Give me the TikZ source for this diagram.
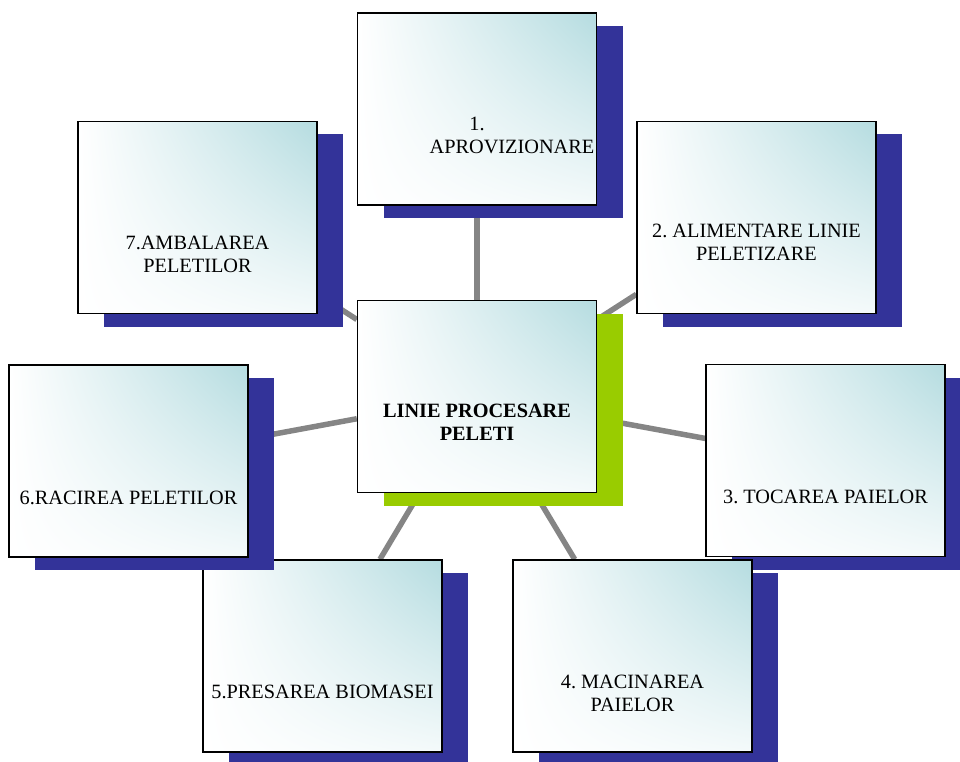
\documentclass[tikz,border=0pt]{standalone}
\usepackage{fontspec}
\setmainfont{Liberation Serif}
\usetikzlibrary{positioning,shadows,shadings,backgrounds}

\definecolor{stagenavy}{HTML}{333399}
\definecolor{hubgreen}{HTML}{99CC00}
\definecolor{paleteal}{HTML}{B5DCE0}
\definecolor{linkgray}{HTML}{858585}

\tikzset{
  box/.style={rectangle, draw=black, line width=1.4pt, inner sep=0pt,
    minimum width=239pt, minimum height=192pt,
    upper left=white, upper right=paleteal, lower left=white, lower right=paleteal!15},
  stagebox/.style={box, drop shadow={shadow xshift=26pt, shadow yshift=-13pt, fill=stagenavy, opacity=1}},
  hubbox/.style={box, drop shadow={shadow xshift=26pt, shadow yshift=-13pt, fill=hubgreen, opacity=1}},
  caption/.style={align=center, inner sep=0pt, font=\fontsize{20.3}{23}\selectfont\frenchspacing},
  link/.style={draw=linkgray, line width=5.5pt},
}

\begin{document}
\begin{tikzpicture}[x=1pt, y=-1pt]
\useasboundingbox (0,0) rectangle (960,762);

\node[hubbox]   (p0) at (477,396.5) {};
\node[stagebox] (p1) at (477,109) {};
\node[stagebox] (p2) at (756.5,217.5) {};
\node[stagebox] (p3) at (825.5,460.5) {};
\node[stagebox] (p4) at (632.5,656) {};
\node[stagebox] (p5) at (322.5,656) {};
\node[stagebox] (p6) at (128.5,461) {};
\node[stagebox] (p7) at (197.5,217.5) {};

\node[caption, font=\fontsize{20.3}{23}\selectfont\bfseries] (t0) [above=53pt of p0.south] {LINIE PROCESARE\\PELETI};
\node[caption] (t1) [above=52pt of p1.south] {1.\\\hspace*{70pt}APROVIZIONARE};
\node[caption] (t2) [above=54pt of p2.south] {2. ALIMENTARE LINIE\\PELETIZARE};
\node[caption] (t3) [above=53pt of p3.south] {3. TOCAREA PAIELOR};
\node[caption] (t4) [above=41pt of p4.south] {4. MACINAREA\\PAIELOR};
\node[caption] (t5) [above=54pt of p5.south] {5.PRESAREA BIOMASEI};
\node[caption] (t6) [above=53pt of p6.south] {6.RACIREA PELETILOR};
\node[caption] (t7) [above=41pt of p7.south] {7.AMBALAREA\\PELETILOR};

\begin{scope}[on background layer]
\draw[link] (p0) -- (p1);
\draw[link] (p0) -- (p2);
\draw[link] (p0) -- (p3);
\draw[link] (p0) -- (p4);
\draw[link] (p0) -- (p5);
\draw[link] (p0) -- (p6);
\draw[link] (p0) -- (p7);
\end{scope}
\end{tikzpicture}
\end{document}
